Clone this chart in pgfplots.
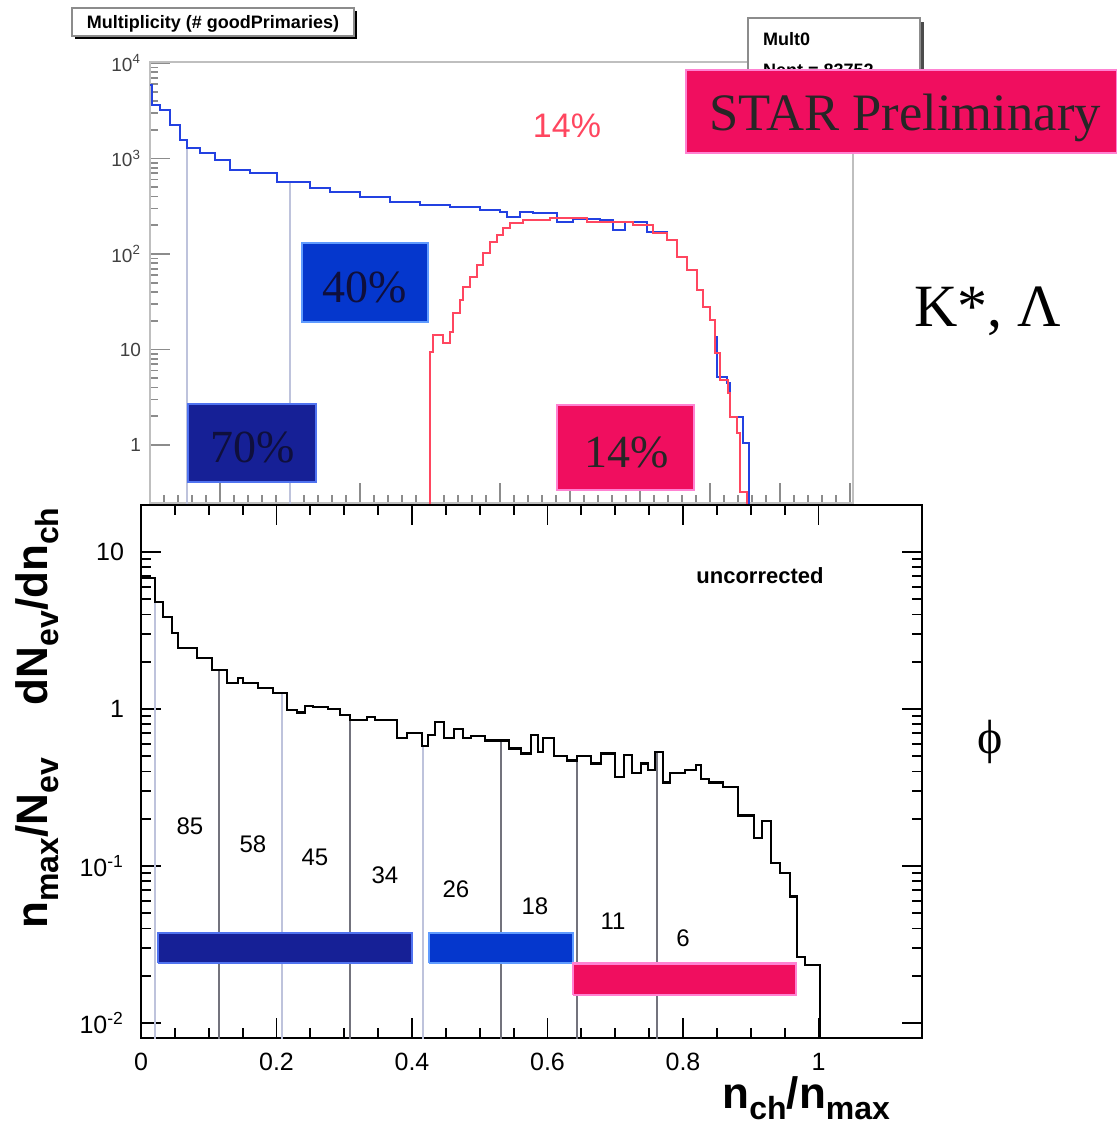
\documentclass[border=0pt]{standalone}
\usepackage{pgfplots}
\pgfplotsset{compat=1.18}
\usepackage{fontspec}
\setmainfont{Liberation Sans}
\newfontfamily\seriffont{Liberation Serif}
\definecolor{hblue}{RGB}{35,65,225}
\definecolor{hred}{RGB}{255,70,95}
\definecolor{navybox}{RGB}{22,32,150}
\definecolor{navybord}{RGB}{80,115,240}
\definecolor{bluebox}{RGB}{5,55,205}
\definecolor{bluebord}{RGB}{95,155,255}
\definecolor{pinkbox}{RGB}{240,14,95}
\definecolor{pinkbord}{RGB}{255,130,210}
\definecolor{darkline}{RGB}{115,115,125}
\definecolor{lightline}{RGB}{190,195,220}
\definecolor{textdark}{RGB}{15,15,60}
\newcommand\sub[1]{\raisebox{-0.25em}{\fontsize{16}{16}\selectfont #1}}
\begin{document}
\begin{tikzpicture}
\path[use as bounding box] (0pt,0pt) rectangle (558.5pt,-563pt);
% ---------------- top histogram ----------------
\begin{axis}[
  at={(75pt,-251.5pt)}, anchor=south west,
  scale only axis, width=351.5pt, height=220.5pt,
  xmin=0, xmax=100.43, ymode=log, ymin=0.247, ymax=10240,
  tick pos=left, tick align=inside,
  xtick={0,10,20,30,40,50,60,70,80,90,100}, minor x tick num=4, xticklabels={},
  ytick={1,10,100,1000,10000},
  yticklabels={1,10,10\textsuperscript{2},10\textsuperscript{3},10\textsuperscript{4}},
  yticklabel style={font=\fontsize{9.5}{10}\selectfont, text=black!75, xshift=-1pt},
  axis line style={draw=black!25, line width=0.8pt},
  major tick length=10pt, minor tick length=4pt,
  every tick/.style={black!45, line width=0.8pt},
]
\addplot[lightline, line width=1pt] coordinates {(5.29,0.1) (5.29,1288)};
\addplot[lightline, line width=1pt] coordinates {(20,0.1) (20,567)};
\addplot[const plot, hblue, line width=1pt] coordinates {
(0,5890) (0.29,3630) (1.43,3220) (2.86,2240) (4.29,1563) (5.29,1288) (7.14,1142)
(9.29,964) (11.43,758) (14.29,705) (18.14,567) (22.86,491) (25.71,446) (30,395)
(34.29,350) (38.57,326) (42.86,311) (47.14,289) (50,275) (51,244) (52.86,275)
(54.71,269) (58.14,216) (60.5,230) (64.29,227) (66.14,178) (67.86,216) (71,170)
(73.86,140) (75.29,93) (76.71,68) (78.14,42) (79,27.9) (80,20.4) (80.71,13.5)
(81,5.15) (82.43,4.46) (82.86,1.97) (84.71,1.05) (85.57,1.05) (85.57,0.1)};
\addplot[const plot, hred, line width=0.9pt] coordinates {
(40,0.1) (40,9.42) (40.43,14.2) (41.86,11.7) (42.86,15.2) (43.29,24.1) (44.29,33)
(44.71,45) (45.71,57) (46.71,77) (47.57,102) (48.57,134) (49.57,158) (50.43,187)
(51.43,211) (53.29,227) (57.14,238) (62.43,216) (69,201) (71.86,166) (73.86,140)
(75.29,93) (76.71,68) (78.14,42) (79,27.9) (80,20.4) (80.71,9.2) (81.43,4.8)
(82.57,3.5) (82.86,1.97) (83.86,1.34) (84.29,0.32) (85.29,0.32) (85.29,0.1)};
\end{axis}
% ---------------- top annotations ----------------
\begin{scope}[x=0.5pt,y=-0.5pt]
\fill[black] (75,11) rectangle (357,39);
\draw[fill=white, draw=black!45, line width=0.6pt] (72,8) rectangle (354,36);
\node[font=\bfseries\fontsize{9}{9}\selectfont, anchor=base] at (213,28) {Multiplicity (\# goodPrimaries)};
\fill[black!70] (752,22) rectangle (924,90);
\draw[fill=white, draw=black!45, line width=0.6pt] (748,18) rectangle (920,88);
\node[font=\bfseries\fontsize{9}{10}\selectfont, anchor=base west] at (756,45) {Mult0};
\node[font=\bfseries\fontsize{9}{10}\selectfont, anchor=base west] at (756,76) {Nent = 83752};
\draw[fill=pinkbox, draw=pinkbord, line width=1pt] (686,70) rectangle (1117,153);
\node[font=\seriffont\fontsize{26.3}{27}\selectfont, text=black!85, anchor=base] at (905,130) {STAR Preliminary};
\node[font=\fontsize{17}{18}\selectfont, text=hred, anchor=base] at (567,137) {14\%};
\draw[fill=bluebox, draw=bluebord, line width=1.2pt] (302,243) rectangle (428,322);
\node[font=\seriffont\fontsize{23}{24}\selectfont, text=textdark, anchor=base] at (365,302) {40\%};
\draw[fill=navybox, draw=navybord, line width=1.2pt] (188,404) rectangle (316,482);
\node[font=\seriffont\fontsize{23}{24}\selectfont, text=textdark, anchor=base] at (253,462) {70\%};
\draw[fill=pinkbox, draw=pinkbord, line width=1.2pt] (557,405) rectangle (694,490);
\node[font=\seriffont\fontsize{23}{24}\selectfont, text=black!85, anchor=base] at (627,467) {14\%};
\node[font=\seriffont\fontsize{30}{31}\selectfont, anchor=base] at (988,326) {K*, Λ};
\end{scope}
% ---------------- bottom histogram ----------------
\begin{axis}[
  at={(70.5pt,-519pt)}, anchor=south west,
  scale only axis, width=390.5pt, height=266.5pt,
  xmin=0, xmax=1.1528, ymode=log, ymin=0.00802, ymax=19.93,
  axis background/.style={fill=white},
  axis line style={line width=1.2pt, black},
  tick align=inside,
  xtick={0,0.2,0.4,0.6,0.8,1}, xticklabels={0,0.2,0.4,0.6,0.8,1}, minor x tick num=3,
  ytick={0.01,0.1,1,10},
  yticklabels={10\textsuperscript{-2},10\textsuperscript{-1},1,10},
  ticklabel style={font=\fontsize{12.5}{13}\selectfont},
  xticklabel style={yshift=-4pt},
  yticklabel style={xshift=-5pt},
  major tick length=10pt, minor tick length=5pt,
  every tick/.style={black, line width=0.9pt},
]
\addplot[lightline, line width=1pt] coordinates {(0.0207,0.005) (0.0207,4.8)};
\addplot[darkline, line width=1pt] coordinates {(0.1151,0.005) (0.1151,1.77)};
\addplot[lightline, line width=1pt] coordinates {(0.2081,0.005) (0.2081,1.26)};
\addplot[darkline, line width=1pt] coordinates {(0.3085,0.005) (0.3085,0.88)};
\addplot[lightline, line width=1pt] coordinates {(0.4162,0.005) (0.4162,0.58)};
\addplot[darkline, line width=1pt] coordinates {(0.5314,0.005) (0.5314,0.63)};
\addplot[darkline, line width=1pt] coordinates {(0.6435,0.005) (0.6435,0.50)};
\addplot[darkline, line width=1pt] coordinates {(0.7616,0.005) (0.7616,0.53)};
\addplot[fill=navybox, draw=navybord, line width=1.2pt] coordinates {(0.0251,0.0241) (0.4,0.0241) (0.4,0.0374) (0.0251,0.0374) (0.0251,0.0241)};
\addplot[fill=bluebox, draw=bluebord, line width=1.2pt] coordinates {(0.4251,0.0241) (0.6376,0.0241) (0.6376,0.0374) (0.4251,0.0374) (0.4251,0.0241)};
\addplot[fill=pinkbox, draw=pinkbord, line width=1.2pt] coordinates {(0.6376,0.0151) (0.9668,0.0151) (0.9668,0.0239) (0.6376,0.0239) (0.6376,0.0151)};
\addplot[const plot, black, line width=1.1pt] coordinates {
(0,6.8) (0.0207,4.8) (0.0325,3.85) (0.0458,3.05) (0.0546,2.45) (0.0827,2.11) (0.1048,1.77)
(0.1269,1.47) (0.1432,1.58) (0.1506,1.47) (0.1727,1.36) (0.1948,1.26) (0.2155,0.99)
(0.2303,0.95) (0.2421,1.04) (0.2539,1.03) (0.2760,1.0) (0.2937,0.92) (0.3085,0.85)
(0.3336,0.89) (0.3454,0.85) (0.3779,0.65) (0.3926,0.70) (0.4148,0.58) (0.4236,0.68)
(0.4339,0.83) (0.4472,0.65) (0.4620,0.75) (0.4753,0.65) (0.4871,0.67) (0.5077,0.63)
(0.5432,0.56) (0.5609,0.52) (0.5756,0.68) (0.5860,0.53) (0.5934,0.65) (0.6096,0.50)
(0.6288,0.47) (0.6435,0.50) (0.6642,0.45) (0.6790,0.52) (0.6996,0.37) (0.7129,0.51)
(0.7247,0.39) (0.7380,0.45) (0.7483,0.41) (0.7587,0.53) (0.7705,0.34) (0.7808,0.39)
(0.8030,0.41) (0.8192,0.44) (0.8266,0.36) (0.8384,0.34) (0.8590,0.32) (0.8812,0.21)
(0.9048,0.151) (0.9166,0.194) (0.9299,0.104) (0.9432,0.090) (0.9579,0.064)
(0.9683,0.0263) (0.9801,0.0234) (1.0022,0.0234) (1.0022,0.005)};
\end{axis}
% ---------------- bottom annotations ----------------
\begin{scope}[x=0.5pt,y=-0.5pt]
\node[font=\bfseries\fontsize{11}{12}\selectfont, anchor=base] at (760,583) {uncorrected};
\begin{scope}[every node/.style={font=\fontsize{12}{12}\selectfont}]
\node at (190,826) {85};
\node at (253,844) {58};
\node at (315,857) {45};
\node at (385,875) {34};
\node at (456,889) {26};
\node at (535,906) {18};
\node at (613,921) {11};
\node at (683,938) {6};
\end{scope}
\node[font=\seriffont\fontsize{24}{25}\selectfont] at (990,742) {ϕ};
\node[font=\bfseries\fontsize{22}{23}\selectfont, anchor=base east] at (897,1108) {n\sub{ch}/n\sub{max}};
\node[font=\bfseries\fontsize{22}{23}\selectfont, rotate=90, anchor=base] at (47,718) {n\sub{max}/N\sub{ev}\hspace{1.2em}dN\sub{ev}/dn\sub{ch}};
\end{scope}
\end{tikzpicture}
\end{document}
